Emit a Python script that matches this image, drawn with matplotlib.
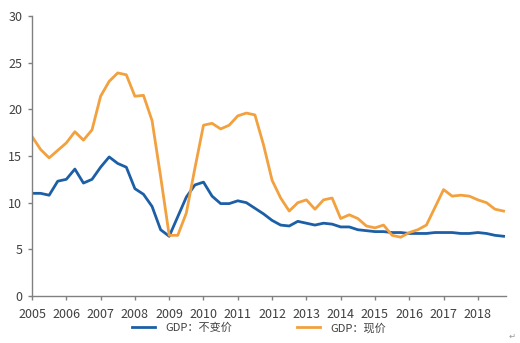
import numpy as np
import matplotlib
matplotlib.use("Agg")
import matplotlib.pyplot as plt

plt.rcParams['font.family'] = ['Noto Sans CJK SC', 'DejaVu Sans']

# quarterly, 2005Q1 .. 2018Q4
start_year = 2005
gdp_real = [11.0, 11.0, 10.8, 12.3, 12.5, 13.6, 12.1, 12.5, 13.8, 14.9,
            14.2, 13.8, 11.5, 10.9, 9.6, 7.1, 6.4, 8.5, 10.6, 11.9,
            12.2, 10.7, 9.9, 9.9, 10.2, 10.0, 9.4, 8.8, 8.1, 7.6,
            7.5, 8.0, 7.8, 7.6, 7.8, 7.7, 7.4, 7.4, 7.1, 7.0,
            6.9, 6.9, 6.8, 6.8, 6.7, 6.7, 6.7, 6.8, 6.8, 6.8,
            6.7, 6.7, 6.8, 6.7, 6.5, 6.4]
gdp_nominal = [17.1, 15.7, 14.8, 15.6, 16.4, 17.6, 16.7, 17.8, 21.4, 23.0,
               23.9, 23.7, 21.4, 21.5, 18.8, 12.8, 6.5, 6.5, 8.9, 13.7,
               18.3, 18.5, 17.9, 18.3, 19.3, 19.6, 19.4, 16.2, 12.4, 10.5,
               9.1, 10.0, 10.3, 9.3, 10.3, 10.5, 8.3, 8.7, 8.3, 7.5,
               7.3, 7.6, 6.5, 6.3, 6.8, 7.1, 7.6, 9.5, 11.4, 10.7,
               10.8, 10.7, 10.3, 10.0, 9.3, 9.1]
years = list(range(2005, 2019))
labels = ['GDP：不变价', 'GDP：现价']

x = start_year + np.arange(len(gdp_real)) / 4.0

fig = plt.figure(figsize=(5.2, 3.43), dpi=100)
ax = fig.add_axes([32/520, 1-296/343, (506-32)/520, 280/343])

ax.plot(x, gdp_real, color='#1d5fa6', lw=2.0, label=labels[0])
ax.plot(x, gdp_nominal, color='#f2a13e', lw=2.0, label=labels[1])

ax.set_xlim(2005, 2018.82)
ax.set_ylim(0, 30)
ax.set_yticks(range(0, 31, 5))
ax.set_xticks(years)
ax.set_xticklabels([str(y) for y in years])

for s in ['top', 'right']:
    ax.spines[s].set_visible(False)
for s in ['left', 'bottom']:
    ax.spines[s].set_color('#808080')
    ax.spines[s].set_linewidth(1.0)
ax.tick_params(axis='both', colors='#808080', labelcolor='#404040',
               labelsize=9, length=3, width=1.0, direction='out')
ax.tick_params(axis='x', pad=6)
ax.tick_params(axis='y', pad=4)

fig.legend(loc='center', bbox_to_anchor=(0.498, 1-328/343), ncol=2,
           frameon=False, fontsize=8, handlelength=2.1, handletextpad=0.9,
           columnspacing=5.8, labelcolor='#404040')

fig.text(0.985, 0.012, '↵', fontsize=6, color='#999999', ha='center',
         family=['DejaVu Sans'])

plt.savefig('out.png', dpi=100)
